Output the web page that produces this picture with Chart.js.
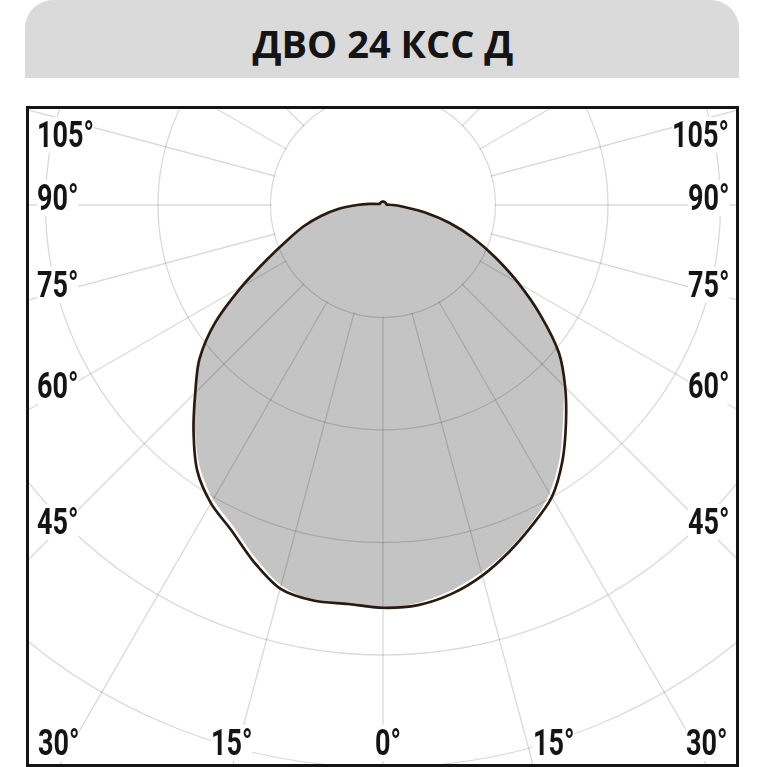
<!DOCTYPE html>
<html>
<head>
<meta charset="utf-8">
<script src="https://cdn.jsdelivr.net/npm/chart.js@4.4.0/dist/chart.umd.min.js"></script>
<style>
  html, body { margin: 0; padding: 0; background: #fff; }
  body { width: 767px; height: 767px; position: relative; overflow: hidden; }
  .kss_banner { position: absolute; left: 25px; top: 0; width: 714px; height: 78px; background: #dadada; border-top-left-radius: 28px; border-top-right-radius: 28px; }
  .kss_box { position: absolute; left: 26px; top: 106px; width: 713px; height: 661px; border: 3px solid #141414; box-sizing: border-box; overflow: hidden; background: #fff; }
  .kss_box canvas { position: absolute; }
  .kss_text { position: absolute; white-space: nowrap; color: #141414; transform-origin: 0 0; }
  .kss_title { font: 700 38px "Open Sans", sans-serif; line-height: 1; }
  .kss_lbl { font: 700 36px Roboto, sans-serif; line-height: 1; background: #fff; }
  .kss_mark { display: inline-block; width: 0; height: 0; }
</style>
</head>
<body>
<div class="kss_banner"></div>
<div class="kss_box"><canvas id="kss" width="1350" height="1350"></canvas></div>
<script>
  var chartTitle = "ДВО 24 КСС Д"

  // angle from the downward axis, degrees
  var polarAngles = [0, 5, 10, 15, 20, 25, 30, 35, 40, 45, 50, 55, 60, 65, 70, 75, 80, 85, 90,
    95, 100, 105, 110, 115, 120, 125, 130, 135, 140, 145, 150, 155, 160, 165, 170, 175, 180]

  // luminous intensity, left half-plane (outline)
  var leftLine = [358, 356, 357, 353, 337, 319, 306, 288, 262, 236, 213, 182, 145, 113, 90, 73, 56, 40, 23,
    12, 5, 4, 3, 3, 3, 3, 3, 3, 3, 3, 3, 3, 3, 3, 3, 3, 3]
  // right half-plane (outline)
  var rightLine = [358, 357, 351, 341, 328, 314, 300, 278, 253, 229, 204, 171, 139, 110, 85, 61, 38, 18, 9,
    4, 3, 3, 3, 3, 3, 3, 3, 3, 3, 3, 3, 3, 3, 3, 3, 3, 3]

  // second plane, drawn as the grey area
  var leftFill = [359, 357, 357, 350, 333, 315, 302, 284, 260, 236, 213, 182, 145, 113, 90, 73, 56, 40, 23,
    12, 5, 4, 3, 3, 3, 3, 3, 3, 3, 3, 3, 3, 3, 3, 3, 3, 3]
  var rightFill = [358, 355, 348, 338, 326, 312, 296, 274, 249, 227, 204, 171, 139, 110, 85, 61, 38, 18, 9,
    4, 3, 3, 3, 3, 3, 3, 3, 3, 3, 3, 3, 3, 3, 3, 3, 3, 3]

  var sideLabels = ["105°", "90°", "75°", "60°", "45°"]
  var bottomLabels = ["30°", "15°", "0°", "15°", "30°"]

  var CX = 383
  var CY = 205
  var R = 675
  var BOX_X = 29
  var BOX_Y = 109
  var LBL_SCALE = 0.75

  var sideBase = [147, 210, 297, 398, 534]
  var bottomBase = 755
  var bottomPos = [[38, "left"], [211, "left"], [375, "left"], [533, "left"], [727, "right"]]

  function toRadar(left, right) {
    var out = left.slice()
    for (var j = right.length - 2; j >= 1; j--) out.push(right[j])
    return out
  }

  function placeText(cls, txt, x, baseline, align, scale) {
    var el = document.createElement("div")
    el.className = "kss_text " + cls
    el.textContent = txt
    var mark = document.createElement("span")
    mark.className = "kss_mark"
    el.appendChild(mark)
    document.body.appendChild(el)
    el.style.transform = "scaleX(" + scale + ")"
    var w = el.offsetWidth * scale
    var left = x
    if (align === "right") left = x - w
    if (align === "center") left = x - w / 2
    el.style.left = left + "px"
    el.style.top = (baseline - mark.offsetTop) + "px"
    return el
  }

  var innerDisk = {
    id: "innerDisk",
    beforeDatasetsDraw: function (chart) {
      var r = chart.scales.r
      var ctx = chart.ctx
      ctx.save()
      ctx.beginPath()
      ctx.arc(r.xCenter, r.yCenter, r.getDistanceFromCenterForValue(100) - 1, 0, Math.PI * 2)
      ctx.fillStyle = "#fff"
      ctx.fill()
      ctx.restore()
    },
  }

  var canvas = document.getElementById("kss")
  canvas.style.left = (CX - R - BOX_X) + "px"
  canvas.style.top = (CY - R - BOX_Y) + "px"

  var gridColor = "rgba(0,0,0,0.15)"

  new Chart(canvas.getContext("2d"), {
    type: "radar",
    data: {
      labels: toRadar(polarAngles, polarAngles).map(function (a) { return a + "°" }),
      datasets: [
        {
          label: "line",
          data: toRadar(leftLine, rightLine),
          fill: false,
          borderColor: "#2a1a0f",
          borderWidth: 2.7,
          pointRadius: 0,
          tension: 0.3,
        },
        {
          label: "area",
          data: toRadar(leftFill, rightFill),
          fill: true,
          backgroundColor: "rgba(0,0,0,0.23)",
          borderWidth: 0,
          pointRadius: 0,
          tension: 0.3,
        },
      ],
    },
    options: {
      responsive: false,
      animation: false,
      layout: { padding: 0 },
      plugins: {
        legend: { display: false },
        tooltip: { enabled: false },
      },
      scales: {
        r: {
          min: 0,
          max: 600,
          startAngle: 180,
          ticks: { display: false, stepSize: 100 },
          pointLabels: { display: false },
          grid: { circular: true, color: gridColor, lineWidth: 1.3 },
          angleLines: {
            color: gridColor,
            lineWidth: function (c) { return c.index % 3 === 0 ? 1.3 : 0 },
          },
        },
      },
    },
    plugins: [innerDisk],
  })

  placeText("kss_title", chartTitle, 383, 58, "center", 1)

  for (var i = 0; i < sideLabels.length; i++) {
    placeText("kss_lbl", sideLabels[i], 37, sideBase[i], "left", LBL_SCALE)
    placeText("kss_lbl", sideLabels[i], 729, sideBase[i], "right", LBL_SCALE)
  }
  for (var k = 0; k < bottomLabels.length; k++) {
    placeText("kss_lbl", bottomLabels[k], bottomPos[k][0], bottomBase, bottomPos[k][1], LBL_SCALE)
  }
</script>
</body>
</html>
